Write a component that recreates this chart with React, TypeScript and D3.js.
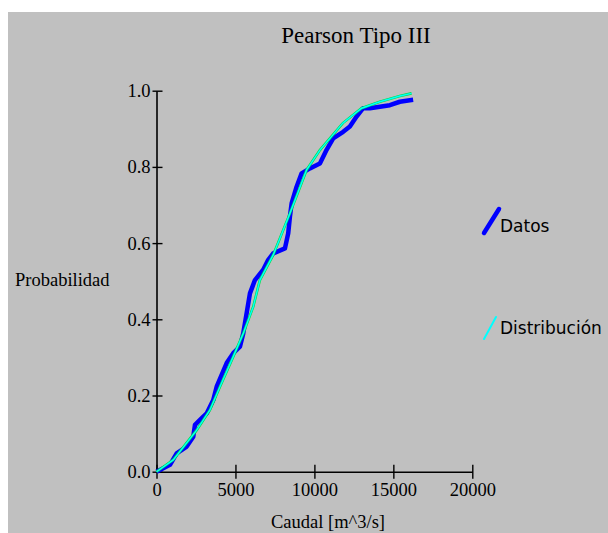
import React, { useEffect, useRef } from 'react';
import * as d3 from 'd3';

// empirical points (Datos)
const caudalDatos = [0, 854, 1278, 1911, 2329, 2437, 2753, 3177, 3595, 3810, 4443, 4861, 5285, 5494, 5709, 5918, 6234, 6759, 7076, 7392, 8133, 8342, 8449, 8557, 8873, 9190, 9715, 10348, 10772, 11190, 11822, 12247, 12671, 13088, 13512, 14145, 14778, 15411, 16253];
const probDatos = [0, 0.018, 0.048, 0.066, 0.092, 0.123, 0.136, 0.153, 0.188, 0.223, 0.285, 0.311, 0.328, 0.363, 0.416, 0.468, 0.503, 0.53, 0.556, 0.573, 0.586, 0.626, 0.669, 0.704, 0.748, 0.783, 0.796, 0.809, 0.845, 0.875, 0.892, 0.906, 0.932, 0.954, 0.954, 0.958, 0.962, 0.971, 0.976];

// fitted Pearson III (Distribución)
const caudalDist = [0, 1063, 2544, 3386, 4019, 4861, 5494, 6126, 6549, 7392, 8449, 9506, 10348, 11171, 11803, 12987, 14145, 15411, 16152];
const probDist = [0, 0.031, 0.109, 0.162, 0.223, 0.302, 0.363, 0.433, 0.503, 0.569, 0.678, 0.792, 0.844, 0.884, 0.915, 0.954, 0.971, 0.986, 0.993];

const xTicks = [0, 5000, 10000, 15000, 20000];
const yTicks = [0, 0.2, 0.4, 0.6, 0.8, 1.0];
const seriesNames = ['Datos', 'Distribución'];

export default function App() {
  const ref = useRef<SVGSVGElement>(null);

  useEffect(() => {
    const svg = d3.select(ref.current);
    svg.selectAll('*').remove();

    const serif = 'Liberation Serif, Times New Roman, serif';

    svg.append('rect')
      .attr('x', 8).attr('y', 12)
      .attr('width', 600).attr('height', 521)
      .attr('fill', '#c0c0c0');

    const x = d3.scaleLinear().domain([0, 20000]).range([156.5, 472.3]);
    const y = d3.scaleLinear().domain([0, 1]).range([471.7, 90.7]);

    // x axis
    const gx = svg.append('g')
      .attr('transform', `translate(0,${y(0)})`)
      .call(d3.axisBottom(x).tickValues(xTicks).tickFormat(d3.format('d')).tickSizeOuter(0));
    gx.select('.domain').attr('stroke', '#000').attr('stroke-width', 1.6);
    gx.selectAll('.tick line').attr('y1', -7).attr('y2', 7).attr('stroke', '#000').attr('stroke-width', 1.4);
    gx.selectAll('.tick text')
      .attr('y', 24).attr('dy', 0)
      .attr('font-family', serif).attr('font-size', 18.5).attr('fill', '#000');

    // y axis
    const gy = svg.append('g')
      .attr('transform', `translate(${x(0)},0)`)
      .call(d3.axisLeft(y).tickValues(yTicks).tickFormat(d3.format('.1f')).tickSizeOuter(0));
    gy.select('.domain').attr('stroke', '#000').attr('stroke-width', 1.6);
    gy.selectAll('.tick line').attr('x1', -4).attr('x2', 6).attr('stroke', '#000').attr('stroke-width', 1.4);
    gy.selectAll('.tick text')
      .attr('x', -6).attr('dy', 6)
      .attr('font-family', serif).attr('font-size', 18.5).attr('fill', '#000');

    const line = d3.line<[number, number]>()
      .x(d => x(d[0]))
      .y(d => y(d[1]));

    const datos = caudalDatos.map((c, i) => [c, probDatos[i]] as [number, number]);
    const dist = caudalDist.map((c, i) => [c, probDist[i]] as [number, number]);

    svg.append('path').datum(datos)
      .attr('d', line).attr('fill', 'none')
      .attr('stroke', '#0000ff').attr('stroke-width', 4.5)
      .attr('stroke-linejoin', 'round');

    svg.append('path').datum(dist)
      .attr('d', line).attr('fill', 'none')
      .attr('stroke', '#00e040').attr('stroke-width', 2.6);
    svg.append('path').datum(dist)
      .attr('d', line).attr('fill', 'none')
      .attr('stroke', '#00ffff').attr('stroke-width', 1.4);

    // titles
    svg.append('text')
      .attr('x', 356).attr('y', 43).attr('text-anchor', 'middle')
      .attr('font-family', serif).attr('font-size', 23).attr('fill', '#000')
      .text('Pearson Tipo III');
    svg.append('text')
      .attr('x', 15).attr('y', 286)
      .attr('font-family', serif).attr('font-size', 18.5).attr('fill', '#000')
      .text('Probabilidad');
    svg.append('text')
      .attr('x', 271).attr('y', 528)
      .attr('font-family', serif).attr('font-size', 18.5).attr('fill', '#000')
      .text('Caudal [m^3/s]');

    // legend
    const legend = [
      { name: seriesNames[0], color: '#0000ff', w: 4.5, x1: 484, y1: 233, x2: 499, y2: 209, ty: 232 },
      { name: seriesNames[1], color: '#00ffff', w: 2, x1: 484, y1: 339, x2: 496, y2: 317, ty: 334 },
    ];
    legend.forEach(l => {
      svg.append('line')
        .attr('x1', l.x1).attr('y1', l.y1).attr('x2', l.x2).attr('y2', l.y2)
        .attr('stroke', l.color).attr('stroke-width', l.w).attr('stroke-linecap', 'round');
      svg.append('text')
        .attr('x', 500).attr('y', l.ty)
        .attr('font-family', 'DejaVu Sans, Verdana, sans-serif').attr('font-size', 17).attr('fill', '#000')
        .text(l.name);
    });
  }, []);

  return (
    <svg ref={ref} width={608} height={533}
      style={{ position: 'absolute', left: 0, top: 0, background: '#fff' }} />
  );
}
